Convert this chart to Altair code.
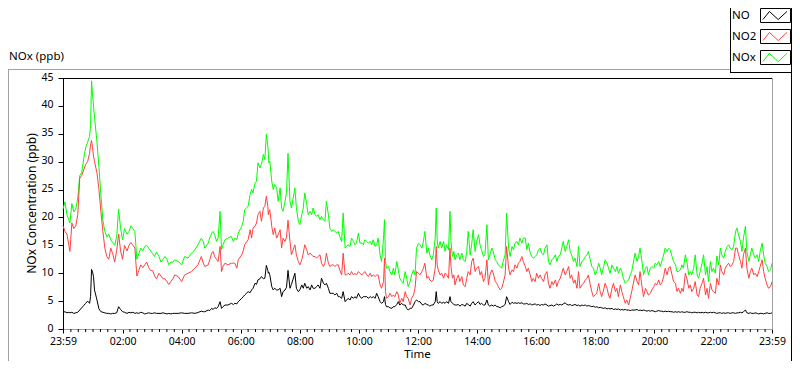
import json
import altair as alt
import pandas as pd

# ---------------- data (minutes after 23:59, ppb) ----------------
time_min = [
    0, 4, 8, 12, 14, 18, 22, 26, 30, 34, 38, 42, 46, 50, 54, 56, 58, 60, 62, 64,
    69, 73, 77, 81, 85, 89, 93, 97, 101, 105, 109, 113, 117, 121, 125, 130, 134, 138, 142, 146,
    150, 154, 158, 162, 166, 170, 174, 178, 182, 186, 190, 195, 199, 203, 207, 211, 215, 219, 223,
    227, 234, 241, 247, 254, 261, 268, 274, 281, 285, 288, 295, 298, 302, 305, 308, 312, 315, 319, 322,
    325, 329, 335, 342, 346, 349, 353, 356, 363, 366, 369, 376, 380, 383, 386, 390, 393, 396, 400, 403,
    407, 410, 413, 416, 417, 418, 420, 424, 427, 430, 434, 437, 441, 444, 447, 451, 454, 457, 461, 464,
    471, 474, 478, 481, 485, 488, 491, 495, 498, 502, 505, 508, 512, 515, 518, 522, 525, 529, 532, 535,
    539, 542, 546, 549, 552, 556, 559, 562, 566, 569, 573, 576, 579, 583, 586, 590, 593, 596, 600, 603,
    607, 610, 613, 617, 620, 624, 627, 630, 634, 637, 640, 644, 647, 651, 653, 655, 657, 661, 664, 668,
    671, 674, 678, 681, 684, 688, 691,
    695, 698, 701, 705, 708, 712, 715, 718, 722, 725, 729, 732, 735, 739, 742, 745, 749, 752, 756, 758,
    760, 762, 766, 769, 773, 776, 779, 783, 786, 788, 791, 794, 796, 800, 803, 806, 810, 813, 817, 820,
    823, 827, 830, 833, 837, 840, 844, 847, 850, 854, 857, 861, 864, 867, 871, 874, 878, 881, 884, 888,
    891, 894, 898, 901, 905, 908, 912, 915, 918, 922, 925, 928, 932, 935,
    939, 942, 945, 949, 952, 955, 959, 962, 966, 969, 972, 976, 979, 983, 986, 989, 993, 996, 1000, 1003,
    1006, 1010, 1013, 1016, 1020, 1023, 1027, 1030, 1033, 1037, 1040, 1044, 1047, 1050, 1054, 1057, 1061, 1064, 1067, 1071,
    1074, 1077, 1081, 1084, 1088, 1091, 1094, 1098, 1101, 1105, 1108, 1111, 1115, 1118, 1122, 1125, 1128, 1132, 1135, 1138,
    1142, 1145, 1149, 1152, 1155,
    1162, 1166, 1169, 1172, 1176, 1179, 1183, 1186, 1189, 1193, 1196, 1200, 1203, 1206, 1210, 1213, 1216, 1220, 1223, 1227,
    1230, 1233, 1237, 1240, 1244, 1247, 1250, 1254, 1257, 1260, 1264, 1267, 1271, 1274, 1277, 1281, 1284, 1288, 1291, 1294,
    1298, 1301, 1305, 1308, 1311, 1315, 1318, 1321, 1325, 1328, 1332, 1335, 1338, 1342, 1345, 1349, 1352, 1355, 1359, 1362,
    1366, 1369, 1372, 1376, 1379, 1382, 1386, 1389, 1393, 1396, 1399, 1403, 1406, 1410, 1413, 1416, 1420, 1423, 1426, 1430,
    1433, 1437, 1440,
]

nox_ppb = [
    21.5, 22.8, 20.5, 19.5, 19.0, 22.5, 21.0, 21.5, 23.5, 27.5, 28.0, 30.5, 32.5, 33.5, 34.5, 36.5, 44.5, 42.0, 40.0, 38.0,
    33.5, 29.0, 24.0, 19.5, 17.5, 16.5, 17.0, 16.0, 15.5, 15.0, 16.5, 21.5, 18.0, 16.0, 18.0, 17.0, 17.5, 18.5, 18.0,
    17.5, 12.5, 13.5, 14.5, 14.0, 14.8, 15.0, 14.5, 14.0, 13.5, 13.0, 13.8, 13.0, 12.0, 12.5, 13.0, 12.5, 11.5, 12.0, 12.0,
    12.4, 12.1, 11.5, 13.0, 12.7, 13.6, 14.2, 15.1, 16.3, 15.7, 14.5, 15.4, 16.3, 17.2, 17.5, 16.9, 15.7, 16.3, 21.1, 14.2,
    15.1, 16.0, 16.3, 16.6, 15.7, 16.3, 16.0, 17.2, 18.4, 19.3, 21.4, 22.0, 24.1, 25.0, 24.4, 26.2, 26.5, 29.8, 28.9, 29.5,
    31.3, 30.4, 34.9, 32.8, 31.5, 29.8, 30.1, 26.5, 25.0, 25.9, 25.3, 22.9, 25.3, 21.7, 21.1, 22.9, 24.5, 31.5, 22.9, 21.7,
    25.3, 21.7, 19.3, 18.7, 20.5, 21.7, 24.4, 22.3, 20.5, 21.1, 20.5, 21.7, 20.5, 20.2, 20.5, 19.6, 20.2, 19.6, 19.3, 22.9,
    20.5, 18.1, 17.5, 17.8, 17.5, 17.2, 17.5, 16.6, 15.7, 20.8, 14.5, 14.8, 15.1, 14.8, 16.3, 15.7, 15.1, 15.4, 17.2, 15.4,
    15.4, 15.1, 16.0, 15.7, 15.4, 15.7, 15.1, 16.0, 14.8, 15.1, 16.3, 13.3, 12.1, 16.3, 19.6, 12.1, 10.9, 11.2, 10.3, 9.7,
    10.9, 9.7, 12.1, 10.6, 9.1, 8.5, 8.2,
    10.3, 9.1, 7.6, 8.5, 9.7, 10.6, 9.7, 14.5, 15.4, 15.1, 14.5, 15.7, 17.5, 13.6, 14.5, 13.3, 12.4, 13.3, 16.3, 21.7,
    16.0, 14.5, 15.7, 14.5, 15.7, 13.9, 15.1, 14.2, 21.1, 15.7, 13.0, 13.9, 12.4, 13.3, 13.6, 12.4, 13.6, 12.4, 12.1, 13.9,
    17.5, 13.3, 15.1, 17.8, 13.9, 15.7, 16.9, 15.1, 14.2, 13.0, 13.3, 18.7, 12.4, 13.3, 14.5, 13.9, 12.4, 12.1, 11.5, 11.2,
    10.9, 12.1, 13.3, 20.8, 14.5, 13.0, 14.8, 14.2, 15.4, 15.7, 15.1, 16.3, 15.4, 16.3,
    16.3, 14.2, 15.4, 13.6, 13.0, 12.7, 13.0, 13.3, 14.2, 14.5, 13.6, 13.3, 14.5, 15.1, 12.1, 11.5, 12.4, 12.7, 13.3, 12.1,
    13.0, 13.3, 14.5, 15.7, 13.9, 14.8, 16.0, 13.9, 13.3, 12.1, 12.7, 11.2, 14.8, 11.2, 12.1, 12.4, 13.0, 13.3, 13.9, 12.4,
    11.2, 10.9, 9.7, 10.3, 11.8, 10.9, 9.7, 11.2, 12.4, 11.8, 10.9, 10.0, 11.5, 10.9, 10.3, 11.2, 10.0, 10.9, 10.3, 9.1,
    8.2, 8.5, 8.8, 9.7, 10.3,
    13.6, 12.1, 13.0, 14.5, 12.1, 9.7, 10.9, 11.2, 9.7, 10.9, 11.2, 10.9, 11.8, 11.5, 12.1, 11.2, 12.1, 13.3, 14.5, 13.9,
    14.5, 14.2, 13.0, 12.1, 11.5, 10.3, 10.3, 10.6, 11.5, 10.9, 13.3, 12.1, 9.7, 10.3, 9.7, 10.9, 13.3, 9.7, 9.1, 10.3,
    11.8, 13.3, 9.7, 11.2, 8.5, 12.1, 10.3, 10.9, 10.0, 13.1, 11.5, 14.5, 13.3, 12.7, 13.9, 14.8, 15.1, 14.5, 14.2, 14.8,
    17.5, 18.1, 16.9, 15.7, 13.9, 16.3, 18.4, 13.9, 12.1, 13.3, 14.5, 13.3, 12.7, 13.3, 12.1, 13.9, 15.4, 13.3, 11.8, 11.2,
    10.3, 10.6, 11.8,
]

no2_ppb = [
    18.5, 17.5, 17.0, 15.0, 13.9, 19.0, 18.0, 18.5, 20.5, 27.0, 27.5, 28.5, 29.5, 30.0, 31.5, 33.0, 33.8, 32.5, 31.0, 30.0,
    28.0, 25.0, 21.0, 17.5, 14.5, 13.0, 12.5, 14.5, 13.5, 12.0, 14.0, 17.0, 14.0, 12.5, 15.0, 14.0, 15.0, 15.5, 15.0,
    14.5, 9.5, 10.5, 11.5, 11.0, 11.5, 12.0, 11.0, 10.5, 10.5, 9.5, 9.0, 10.0, 9.5, 9.0, 9.0, 8.5, 8.0, 8.5, 9.0,
    9.7, 9.4, 8.5, 9.7, 10.0, 10.3, 10.9, 11.5, 13.0, 11.8, 11.2, 11.5, 12.4, 13.6, 13.9, 13.0, 12.5, 12.1, 14.8, 10.3,
    11.2, 11.8, 11.5, 11.8, 11.8, 11.8, 10.9, 12.4, 13.3, 14.0, 15.1, 16.0, 17.8, 16.3, 18.1, 18.4, 19.0, 20.5, 21.1, 19.3,
    21.7, 22.0, 23.8, 22.0, 20.5, 21.0, 21.4, 18.4, 16.9, 18.1, 16.3, 16.9, 17.8, 14.5, 16.3, 15.7, 16.5, 19.5, 15.7, 13.3,
    15.1, 13.3, 12.1, 11.5, 12.4, 13.6, 15.1, 14.2, 13.3, 13.6, 13.3, 13.0, 13.0, 12.7, 13.0, 13.3, 11.8, 11.2, 11.8, 13.6,
    11.8, 11.2, 11.5, 11.5, 11.2, 11.5, 11.5, 10.6, 9.7, 13.6, 9.7, 9.7, 10.0, 9.7, 10.3, 9.7, 10.0, 9.7, 10.3, 10.0,
    9.7, 10.0, 10.3, 9.7, 9.4, 10.0, 9.4, 9.7, 9.4, 9.7, 9.7, 7.9, 7.3, 8.5, 12.7, 6.7, 5.5, 5.8, 6.4, 5.8,
    6.1, 5.8, 6.7, 6.1, 4.6, 5.5, 4.9,
    6.7, 5.8, 5.5, 4.3, 5.5, 6.1, 7.3, 10.3, 10.0, 9.7, 10.3, 10.9, 11.8, 9.1, 9.4, 8.8, 8.5, 8.8, 10.9, 14.8,
    11.5, 10.6, 9.7, 10.0, 9.1, 10.0, 9.7, 9.1, 14.5, 11.2, 9.1, 9.7, 7.9, 9.1, 9.7, 8.5, 9.4, 7.9, 7.6, 9.1,
    10.3, 9.7, 12.1, 12.7, 10.3, 10.9, 11.2, 9.7, 10.3, 8.5, 9.1, 12.4, 7.9, 9.7, 10.6, 10.0, 8.5, 8.2, 7.6, 7.0,
    7.3, 8.2, 9.7, 14.8, 10.9, 9.7, 10.6, 10.3, 11.5, 10.9, 11.8, 12.1, 13.0, 12.1,
    11.2, 10.3, 10.9, 9.7, 8.5, 9.1, 8.5, 10.0, 9.1, 9.7, 9.1, 8.5, 9.7, 10.3, 8.2, 7.3, 8.5, 7.9, 8.8, 7.6,
    8.5, 9.1, 10.0, 10.9, 9.7, 10.3, 11.2, 9.1, 9.7, 8.2, 8.8, 7.3, 10.3, 7.3, 7.9, 8.2, 8.8, 9.1, 9.7, 7.9,
    6.7, 5.8, 6.1, 6.4, 8.2, 6.7, 5.8, 7.0, 8.2, 7.3, 6.1, 5.5, 7.3, 8.2, 6.7, 7.3, 5.8, 7.9, 6.7, 5.8,
    4.6, 5.2, 4.3, 5.5, 6.7,
    9.7, 8.5, 7.9, 10.3, 7.6, 5.8, 7.3, 6.7, 6.1, 6.4, 7.0, 7.6, 8.2, 7.9, 8.8, 7.9, 8.2, 9.4, 10.9, 9.7,
    10.9, 11.2, 9.7, 8.5, 8.2, 6.7, 7.3, 6.4, 7.3, 6.7, 10.0, 9.1, 7.3, 7.9, 6.7, 7.3, 8.5, 6.1, 5.8, 7.3,
    8.2, 9.1, 6.1, 7.3, 5.5, 8.2, 7.0, 6.7, 6.4, 9.1, 7.9, 11.5, 10.3, 9.7, 10.9, 11.5, 11.8, 11.2, 11.5, 12.1,
    14.5, 14.5, 13.3, 12.1, 10.9, 13.3, 14.5, 10.9, 9.1, 10.3, 10.9, 9.7, 10.0, 9.4, 10.3, 11.2, 12.4, 10.3, 9.1, 7.9,
    7.3, 7.6, 8.5,
]

no_ppb = [
    3.0, 3.1, 2.9, 3.0, 2.9, 3.0, 2.8, 2.9, 3.0, 3.4, 3.8, 4.2, 4.6, 5.0, 4.6, 5.8, 10.7, 10.2, 9.4, 7.0,
    5.2, 3.6, 3.1, 3.0, 2.9, 2.8, 2.8, 2.7, 2.8, 2.8, 2.9, 4.0, 3.5, 3.1, 3.0, 2.8, 3.0, 2.9, 3.0,
    2.8, 2.9, 2.8, 3.0, 2.9, 2.7, 2.8, 2.9, 2.8, 2.8, 2.9, 2.8, 2.8, 2.8, 2.9, 2.8, 2.7, 2.8, 2.7, 2.8,
    2.8, 2.8, 2.9, 2.8, 2.8, 2.9, 2.8, 2.95, 3.2, 3.1, 3.1, 3.4, 3.3, 3.7, 3.5, 3.8, 3.7, 4.0, 4.9, 3.7,
    4.0, 4.3, 4.3, 4.6, 4.4, 4.6, 4.5, 4.9, 5.5, 5.8, 6.1, 6.7, 6.5, 7.0, 7.3, 8.2, 8.0, 8.8, 9.0, 9.4,
    9.0, 9.1, 11.4, 10.5, 10.0, 10.2, 9.7, 7.6, 7.0, 7.3, 7.0, 7.0, 7.3, 5.8, 6.7, 7.0, 7.5, 10.5, 7.3, 8.0,
    10.0, 7.3, 6.7, 7.0, 7.9, 7.3, 8.2, 7.3, 7.6, 7.0, 7.9, 7.3, 7.3, 7.6, 7.9, 7.3, 9.1, 8.2, 7.9, 8.2,
    7.3, 6.4, 6.4, 6.4, 6.1, 6.4, 5.8, 5.8, 5.5, 6.7, 4.9, 5.2, 5.5, 5.2, 5.8, 5.5, 5.8, 5.5, 6.4, 5.8,
    5.5, 5.8, 5.8, 5.8, 5.5, 5.8, 5.6, 5.8, 5.5, 6.4, 5.8, 4.9, 4.6, 4.9, 5.8, 4.4, 4.0, 4.0, 3.8, 3.7,
    4.0, 4.0, 4.4, 4.9, 4.3, 4.6, 4.3,
    4.3, 3.7, 3.4, 3.7, 3.7, 4.3, 4.9, 5.2, 4.9, 4.9, 4.4, 4.3, 4.6, 4.4, 4.3, 4.1, 4.3, 4.3, 4.9, 6.7,
    4.9, 4.6, 4.9, 4.6, 4.8, 4.6, 4.9, 4.6, 5.8, 4.9, 4.6, 4.4, 4.3, 4.3, 4.4, 4.1, 4.4, 4.3, 4.1, 4.6,
    4.4, 4.1, 4.6, 4.9, 4.3, 4.6, 4.9, 4.4, 4.6, 4.3, 4.3, 5.2, 4.3, 4.1, 4.3, 4.1, 4.3, 4.0, 4.0, 3.8,
    4.0, 4.1, 4.4, 5.8, 4.9, 4.4, 4.8, 4.6, 4.7, 4.6, 4.7, 4.6, 4.7, 4.5,
    4.5, 4.6, 4.4, 4.5, 4.3, 4.4, 4.5, 4.3, 4.4, 4.2, 4.4, 4.3, 4.5, 4.3, 4.1, 4.2, 4.3, 4.1, 4.3, 4.5,
    4.3, 4.4, 4.3, 4.5, 4.7, 4.4, 4.3, 4.4, 4.2, 4.3, 4.4, 4.2, 4.3, 4.1, 4.3, 4.2, 4.3, 4.1, 4.2, 4.1,
    4.0, 4.1, 3.9, 4.0, 3.8, 3.9, 3.8, 3.7, 3.8, 3.6, 3.7, 3.6, 3.7, 3.5, 3.6, 3.5, 3.6, 3.4, 3.5, 3.4,
    3.5, 3.4, 3.4, 3.3, 3.4,
    3.4, 3.5, 3.3, 3.4, 3.3, 3.4, 3.3, 3.2, 3.3, 3.2, 3.3, 3.2, 3.1, 3.2, 3.3, 3.2, 3.2, 3.1, 3.2, 3.1,
    3.2, 3.1, 3.1, 3.0, 3.1, 3.0, 3.1, 3.0, 3.1, 3.0, 3.0, 3.1, 3.0, 3.0, 2.9, 3.0, 3.0, 2.9, 3.0, 2.9,
    3.0, 2.9, 3.0, 2.9, 2.9, 3.0, 2.9, 3.0, 2.9, 2.8, 2.9, 2.9, 2.8, 2.9, 2.8, 2.9, 2.9, 2.8, 2.9, 2.9,
    2.8, 2.9, 2.9, 3.0, 2.9, 3.1, 3.4, 2.9, 2.8, 2.9, 2.8, 2.8, 2.9, 2.8, 2.7, 2.8, 2.8, 2.7, 2.8, 2.9,
    2.8, 2.8, 2.9,
]

series_names = ["NO", "NO2", "NOx"]
series_colors = ["#000000", "#ff4040", "#00ff00"]

x_tick_values = [0, 121, 241, 361, 481, 601, 721, 841, 961, 1081, 1201, 1321, 1440]
x_tick_labels = ["23:59", "02:00", "04:00", "06:00", "08:00", "10:00", "12:00",
                 "14:00", "16:00", "18:00", "20:00", "22:00", "23:59"]
minor_tick_values = [m for m in range(1, 1440, 15) if m not in x_tick_values]
y_tick_values = [0, 5, 10, 15, 20, 25, 30, 35, 40, 45]

# ---------------- layout / style ----------------
FONT = "Noto Sans"
FS = 11.5
TICK_FS = 10.5
W, H = 709, 251
PAD = {"left": 55, "top": 70, "right": 20, "bottom": 32}

x_scale = alt.Scale(domain=[0, 1440], nice=False, zero=False)
y_scale = alt.Scale(domain=[0, 45], nice=False, zero=True)

label_expr = f"{json.dumps(x_tick_labels)}[indexof({json.dumps(x_tick_values)}, datum.value)]"

x_axis = alt.Axis(values=x_tick_values, labelExpr=label_expr, title=None, grid=False,
                  tickSize=4, tickColor="black", domainColor="#a0a0a0",
                  labelFont=FONT, labelFontSize=TICK_FS, labelColor="black", labelPadding=3,
                  labelFlush=False, labelOverlap=False)
y_axis = alt.Axis(values=y_tick_values, title=None, grid=False,
                  tickSize=5, tickColor="black", domainColor="black",
                  labelFont=FONT, labelFontSize=TICK_FS, labelColor="black", labelPadding=5,
                  labelOffset=-1)

one = pd.DataFrame({"k": [0]})


def series_layer(values, color):
    df = pd.DataFrame({"t": time_min, "v": values})
    return alt.Chart(df).mark_line(color=color, strokeWidth=1).encode(
        x=alt.X("t:Q", scale=x_scale, axis=x_axis),
        y=alt.Y("v:Q", scale=y_scale, axis=y_axis),
    )


def hrule(x1, x2, y, color):
    return alt.Chart(one).mark_rule(color=color, strokeWidth=1).encode(
        x=alt.value(x1), x2=alt.value(x2), y=alt.value(y))


def vrule(x, y1, y2, color):
    return alt.Chart(one).mark_rule(color=color, strokeWidth=1).encode(
        x=alt.value(x), y=alt.value(y1), y2=alt.value(y2))


def text(s, x, y, align="left", angle=0, size=FS, baseline="middle"):
    return alt.Chart(pd.DataFrame({"s": [s]})).mark_text(
        font=FONT, fontSize=size, color="black", align=align, baseline=baseline, angle=angle
    ).encode(text="s:N", x=alt.value(x), y=alt.value(y))


layers = [
    series_layer(nox_ppb, series_colors[2]),
    series_layer(no2_ppb, series_colors[1]),
    series_layer(no_ppb, series_colors[0]),
]

# minor ticks on the time axis
layers.append(
    alt.Chart(pd.DataFrame({"m": minor_tick_values})).mark_rule(color="black", strokeWidth=1).encode(
        x=alt.X("m:Q", scale=x_scale, axis=x_axis), y=alt.value(H), y2=alt.value(H + 3))
)

# plot frame (top black, right grey)
layers += [hrule(0, W, 0.5, "black"), vrule(W + 0.5, 0, H, "#a0a0a0")]

# window frame and legend frame
layers += [
    hrule(-55, 667, -8.5, "#a0a0a0"),
    vrule(-54.5, -8.5, 283, "#a0a0a0"),
    vrule(667.5, -70, -5.5, "black"),
    hrule(667, 729, -5.5, "black"),
    vrule(728.5, -70, 283, "black"),
]

# legend entries
zig = "M-0.93,0.3L-0.45,-0.3L0.2,0.3L0.85,-0.3"
legend_y = [-62.5, -41.5, -20.5]
for name, color, cy in zip(series_names, series_colors, legend_y):
    layers.append(text(name, 669, cy))
    layers.append(alt.Chart(one).mark_rect(fill="white", stroke="black", strokeWidth=1).encode(
        x=alt.value(697.5), x2=alt.value(727.5), y=alt.value(cy - 7), y2=alt.value(cy + 7)))
    layers.append(alt.Chart(one).mark_point(shape=zig, filled=False, color=color, strokeWidth=1,
                                            size=729, opacity=1).encode(
        x=alt.value(712.5), y=alt.value(cy)))

# titles
layers += [
    text("NOx (ppb)", -54, -21),
    text("NOx Concentration (ppb)", -31, H / 2, align="center", angle=270, size=12),
    text("Time", W / 2, 280, align="center", baseline="alphabetic"),
]

chart = alt.layer(*layers).properties(
    width=W, height=H, padding=PAD,
    autosize=alt.AutoSizeParams(type="none"),
    background="white",
).configure_view(stroke=None)

chart.save("out.html", embed_options={"renderer": "svg", "actions": False})
